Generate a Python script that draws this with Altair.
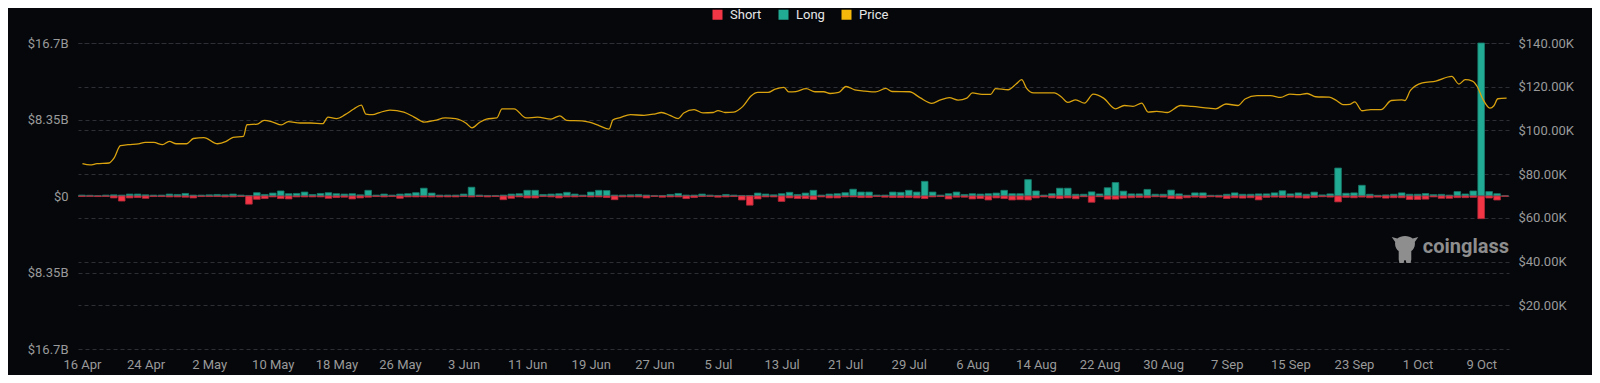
import altair as alt
import pandas as pd

START = "2025-04-16"
N_DAYS = 180

# Daily liquidations (billions USD), one value per day from 16 Apr
long_b = [
    0.10, 0.08, 0.03, 0.10, 0.13, 0.10, 0.21, 0.21, 0.13, 0.10,
    0.10, 0.21, 0.17, 0.28, 0.10, 0.10, 0.13, 0.17, 0.13, 0.21,
    0.10, 0.06, 0.36, 0.17, 0.32, 0.55, 0.25, 0.28, 0.43, 0.17,
    0.28, 0.36, 0.25, 0.21, 0.25, 0.13, 0.62, 0.10, 0.21, 0.10,
    0.21, 0.25, 0.36, 0.85, 0.32, 0.10, 0.10, 0.10, 0.21, 0.96,
    0.10, 0.06, 0.06, 0.10, 0.21, 0.25, 0.62, 0.62, 0.17, 0.21,
    0.25, 0.40, 0.21, 0.10, 0.43, 0.62, 0.59, 0.10, 0.10, 0.13,
    0.17, 0.10, 0.06, 0.06, 0.17, 0.28, 0.10, 0.10, 0.21, 0.10,
    0.06, 0.17, 0.10, 0.06, 0.06, 0.32, 0.21, 0.13, 0.25, 0.40,
    0.17, 0.32, 0.62, 0.10, 0.21, 0.25, 0.36, 0.74, 0.43, 0.43,
    0.10, 0.10, 0.43, 0.40, 0.62, 0.43, 1.60, 0.43, 0.10, 0.25,
    0.43, 0.17, 0.25, 0.21, 0.25, 0.32, 0.62, 0.25, 0.25, 1.79,
    0.55, 0.10, 0.25, 0.85, 0.85, 0.19, 0.19, 0.45, 0.23, 0.90,
    1.47, 0.53, 0.23, 0.23, 0.72, 0.19, 0.19, 0.64, 0.23, 0.08,
    0.34, 0.34, 0.08, 0.08, 0.19, 0.34, 0.19, 0.19, 0.23, 0.23,
    0.34, 0.57, 0.23, 0.34, 0.19, 0.42, 0.12, 0.23, 3.05, 0.30,
    0.34, 1.17, 0.19, 0.08, 0.12, 0.19, 0.34, 0.19, 0.19, 0.27,
    0.15, 0.18, 0.10, 0.48, 0.22, 0.55, 16.70, 0.48, 0.25, 0.03,
]
short_b = [
    0.05, 0.03, 0.06, 0.04, 0.21, 0.55, 0.21, 0.17, 0.25, 0.06,
    0.06, 0.10, 0.10, 0.13, 0.21, 0.06, 0.06, 0.06, 0.10, 0.10,
    0.06, 0.89, 0.36, 0.28, 0.10, 0.28, 0.32, 0.10, 0.10, 0.10,
    0.10, 0.25, 0.17, 0.13, 0.32, 0.21, 0.13, 0.06, 0.10, 0.06,
    0.25, 0.10, 0.10, 0.10, 0.10, 0.10, 0.10, 0.10, 0.06, 0.10,
    0.06, 0.10, 0.06, 0.40, 0.25, 0.10, 0.21, 0.21, 0.06, 0.10,
    0.21, 0.10, 0.10, 0.06, 0.10, 0.10, 0.17, 0.40, 0.10, 0.10,
    0.10, 0.21, 0.04, 0.13, 0.10, 0.10, 0.28, 0.17, 0.06, 0.04,
    0.13, 0.10, 0.06, 0.43, 1.00, 0.32, 0.10, 0.10, 0.59, 0.21,
    0.28, 0.28, 0.36, 0.10, 0.21, 0.21, 0.10, 0.10, 0.17, 0.17,
    0.06, 0.13, 0.17, 0.17, 0.17, 0.21, 0.28, 0.10, 0.06, 0.32,
    0.13, 0.13, 0.32, 0.28, 0.43, 0.21, 0.28, 0.43, 0.40, 0.43,
    0.21, 0.10, 0.21, 0.28, 0.21, 0.30, 0.08, 0.68, 0.08, 0.34,
    0.34, 0.23, 0.19, 0.15, 0.19, 0.08, 0.12, 0.27, 0.30, 0.19,
    0.12, 0.19, 0.08, 0.12, 0.27, 0.19, 0.23, 0.19, 0.42, 0.15,
    0.12, 0.15, 0.12, 0.19, 0.23, 0.15, 0.08, 0.12, 0.64, 0.15,
    0.19, 0.12, 0.19, 0.12, 0.23, 0.19, 0.19, 0.38, 0.38, 0.34,
    0.10, 0.25, 0.25, 0.18, 0.18, 0.15, 2.47, 0.22, 0.44, 0.03,
]

# BTC price (thousand USD) sampled along the line, day offset from 16 Apr
price_day = [
    0.06, 1.01, 1.88, 3.4, 4.05, 4.83, 5.8, 7.09, 7.95, 9.04, 10.12, 10.99,
    11.86, 13.16, 14.02, 15.33, 17.06, 18.14, 19.01, 20.31, 20.75, 22.05,
    22.91, 24.0, 25.08, 25.95, 27.47, 28.77, 30.29, 30.94, 32.02, 33.1,
    34.19, 35.14, 35.7, 36.57, 37.44, 38.74, 40.48, 41.78, 43.08, 44.38,
    45.68, 46.98, 48.28, 49.06, 50.02, 50.88, 52.18, 52.84, 54.35, 55.87,
    57.3, 59.0, 60.1, 60.95, 62.9, 63.8, 65.1, 66.3, 66.8, 67.7, 69.0,
    70.7, 72.0, 72.9, 73.96, 75.0, 75.7, 77.0, 78.1, 79.4, 80.0, 80.9,
    82.0, 83.1, 84.2, 85.0, 86.3, 87.2, 88.3, 88.9, 89.8, 91.1, 92.2,
    93.3, 94.1, 95.2, 96.1, 97.2, 98.5, 99.8, 101.1, 101.9, 104.1, 105.4,
    106.9, 108.0, 109.1, 110.2, 111.3, 112.0, 113.2, 114.3, 114.9, 116.5,
    117.5, 118.2, 118.8, 119.7, 122.3, 123.2, 124.0, 125.0, 126.1, 127.2,
    128.5, 130.0, 131.1, 132.2, 133.3, 134.1, 135.2, 136.5, 138.2, 139.6,
    141.7, 142.6, 143.9, 145.4, 146.3, 147.8, 149.5, 150.8, 151.9, 153.0,
    154.1, 155.2, 156.9, 157.8, 158.6, 159.5, 160.1, 161.0, 162.1, 163.4,
    164.7, 166.0, 166.4, 167.1, 168.6, 170.3, 172.3, 173.2, 174.0, 174.9,
    175.5, 176.2, 177.1, 177.6, 178.1, 179.2,
]
price_k = [
    84.8, 84.2, 84.8, 85.1, 87.4, 93.0, 93.5, 93.8, 94.5, 94.5, 93.5, 95.0,
    93.9, 93.9, 96.3, 96.7, 93.9, 95.0, 96.8, 97.3, 102.6, 102.9,
    104.6, 103.8, 102.5, 104.0, 103.4, 103.4, 103.1, 106.1, 105.4, 107.2,
    109.8, 111.6, 107.5, 107.2, 108.2, 109.3, 108.4, 106.1, 103.8, 104.6,
    105.7, 105.4, 103.4, 101.2, 103.7, 105.2, 105.7, 109.9, 109.9, 105.7,
    106.1, 105.2, 106.7, 104.6, 104.4, 103.8, 102.1, 100.6, 104.9, 105.9, 107.2,
    106.9, 107.5, 108.2, 106.9, 105.4, 108.0, 109.5, 108.0, 108.2, 109.1, 108.2,
    108.4, 110.9, 115.9, 117.4, 117.4, 118.9, 119.7, 117.6, 117.8, 119.1, 117.7,
    117.7, 116.9, 117.4, 120.1, 118.6, 118.0, 117.6, 119.2, 117.8, 117.7, 115.0,
    112.4, 114.0, 115.0, 113.9, 114.8, 117.2, 116.5, 116.5, 119.1, 118.6,
    121.2, 123.2, 119.4, 117.2, 117.2, 115.3, 112.8, 114.0, 112.5, 116.6,
    114.8, 109.9, 111.4, 111.0, 112.5, 108.4, 108.7, 108.2, 111.4, 111.0,
    110.2, 109.9, 112.1, 111.4, 114.4, 115.9, 115.9, 115.1, 116.6, 116.4,
    116.9, 115.4, 115.2, 113.7, 111.8, 111.9, 113.1, 109.0, 109.5, 109.5,
    113.7, 114.0, 113.7, 118.3, 121.7, 122.6, 124.7, 121.2, 123.2, 122.6,
    120.1, 114.4, 110.2, 111.3, 114.5, 114.8,
]

left_ticks_b = [-16.7, -8.35, 0, 8.35, 16.7]
right_ticks_k = [20, 40, 60, 80, 100, 120, 140]
tick_day_offsets = list(range(0, N_DAYS, 8))

legend_names = ["Short", "Long", "Price"]
legend_colors = ["#F23645", "#22AB94", "#F5B80B"]
bar_stroke = {"Short": "#B3283A", "Long": "#177A6A"}

# ---- build tables ----
start = pd.Timestamp(START)
dates = pd.date_range(start, periods=N_DAYS, freq="D")
half = pd.Timedelta(hours=10)
rows = []
for i, d in enumerate(dates):
    for typ, v in (("Long", long_b[i]), ("Short", -short_b[i])):
        if v == 0:
            continue
        rows.append({
            "x0": (d - half).strftime("%Y-%m-%dT%H:%M:%S"),
            "x1": (d + half).strftime("%Y-%m-%dT%H:%M:%S"),
            "type": typ,
            "value": v * 1e9,
        })
bars_df = pd.DataFrame(rows)

price_df = pd.DataFrame({
    "t": [(start + pd.Timedelta(days=o)).strftime("%Y-%m-%dT%H:%M:%S") for o in price_day],
    "price": [p * 1000 for p in price_k],
})

def dt(ts):
    return alt.DateTime(year=ts.year, month=ts.month, date=ts.day, hours=ts.hour)

x_domain = [dt(start - pd.Timedelta(hours=12)),
            dt(start + pd.Timedelta(days=N_DAYS - 1, hours=12))]
x_ticks = [dt(start + pd.Timedelta(days=o)) for o in tick_day_offsets]
x_scale = alt.Scale(domain=x_domain, nice=False)

FONT = "Roboto"
LABEL = "#9a9a9a"
GRID = "#2c2f36"
BG = "#05070B"

x_axis = alt.Axis(values=x_ticks, format="%-d %b", labelColor=LABEL,
                  labelFont=FONT, labelFontSize=13, grid=False,
                  domain=False, ticks=False, labelPadding=9,
                  labelFlush=False, labelOverlap=False, orient="bottom")

left_scale = alt.Scale(domain=[-16.7e9, 16.7e9], nice=False, zero=False)

bars = alt.Chart(bars_df).mark_bar(strokeWidth=0.8).encode(
    x=alt.X("x0:T", scale=x_scale, title=None, axis=x_axis),
    x2="x1:T",
    y=alt.Y("value:Q", scale=left_scale, title=None,
            axis=alt.Axis(values=[v * 1e9 for v in left_ticks_b],
                          labelExpr="datum.value == 0 ? '$0' : '$' + format(abs(datum.value) / 1e9, '.3~r') + 'B'",
                          labelColor=LABEL, labelFont=FONT, labelFontSize=13,
                          grid=True, gridColor=GRID, gridDash=[4, 3],
                          domain=False, ticks=False, labelPadding=10)),
    y2=alt.datum(0),
    color=alt.Color("type:N",
                    scale=alt.Scale(domain=legend_names, range=legend_colors),
                    legend=alt.Legend(orient="none", legendX=633, legendY=-35,
                                      direction="horizontal", title=None,
                                      symbolType="square", symbolSize=100,
                                      symbolStrokeWidth=0,
                                      labelColor="#e6e6e6", labelFont=FONT,
                                      labelFontSize=13, labelFontWeight="normal",
                                      columnPadding=15, labelOffset=6)),
    stroke=alt.Stroke("type:N",
                      scale=alt.Scale(domain=list(bar_stroke.keys()),
                                      range=list(bar_stroke.values())),
                      legend=None),
)

zero_rule = alt.Chart(pd.DataFrame({"z": [0]})).mark_rule(
    color="#3a3d44", strokeWidth=1
).encode(y=alt.Y("z:Q", scale=left_scale))

left = alt.layer(zero_rule, bars)

line = alt.Chart(price_df).mark_line(
    color="#D9A20E", strokeWidth=1.3, interpolate="monotone"
).encode(
    x=alt.X("t:T", scale=x_scale, title=None, axis=x_axis),
    y=alt.Y("price:Q", scale=alt.Scale(domain=[0, 140000], nice=False), title=None,
            axis=alt.Axis(orient="right", values=[v * 1000 for v in right_ticks_k],
                          labelExpr="'$' + format(datum.value / 1000, '.2f') + 'K'",
                          labelColor=LABEL, labelFont=FONT, labelFontSize=13,
                          grid=True, gridColor=GRID, gridDash=[4, 3],
                          domain=False, ticks=False, labelPadding=9)),
)

watermark = alt.Chart(pd.DataFrame({"t": ["coinglass"]})).mark_text(
    align="right", baseline="alphabetic", font=FONT, fontSize=20,
    fontWeight="bold", color="#8e8e8e"
).encode(text="t:N", x=alt.value(1431), y=alt.value(210))

icon_path = ("M-0.55,-0.75 C-0.3,-1 0.3,-1 0.55,-0.75 L0.95,-0.85 L0.7,-0.5 "
             "C0.75,-0.2 0.6,0.05 0.45,0.15 L0.45,0.75 L0.4,1 L0.1,1 L0.05,0.8 "
             "L-0.05,0.8 L-0.1,1 L-0.4,1 L-0.45,0.75 L-0.45,0.15 "
             "C-0.6,0.05 -0.75,-0.2 -0.7,-0.5 L-0.95,-0.85 Z")
icon = alt.Chart(pd.DataFrame({"a": [0]})).mark_point(
    shape=icon_path, filled=True, size=784, color="#8e8e8e", opacity=1
).encode(x=alt.value(1327), y=alt.value(206))

chart = alt.layer(left, line, watermark, icon).resolve_scale(
    y="independent"
).properties(
    width=1431, height=306,
    autosize=alt.AutoSizeParams(type="none"),
    padding={"left": 70, "top": 35, "right": 83, "bottom": 26},
    background=BG,
).configure_view(stroke=None)

chart.save("out.html", embed_options={"renderer": "svg", "actions": False})
